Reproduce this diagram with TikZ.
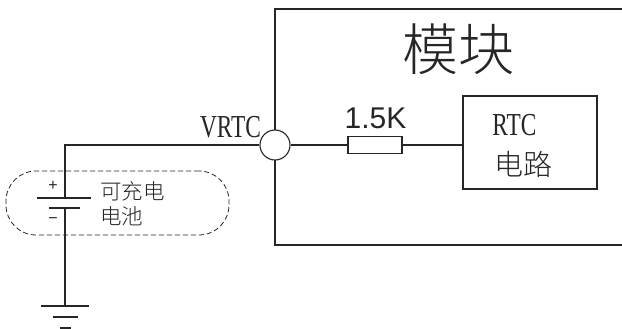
\documentclass[tikz,border=0pt]{standalone}
\usepackage{fontspec}
\setmainfont{Liberation Serif}
\newfontfamily\cjk{Noto Sans CJK SC}
\newfontfamily\cjklight{Noto Sans CJK SC Light}
\newfontfamily\arialf{Liberation Sans}
\tikzset{
  wire/.style={draw=black!85,line width=1.1pt},
  lbl/.style={inner sep=0pt,outer sep=0pt,text=black!85},
}
\begin{document}
\begin{tikzpicture}[x=1pt,y=-1pt]
\useasboundingbox (0,0) rectangle (622,329);
\clip (0,0) rectangle (622,329);
\fill[white] (0,0) rectangle (622,329);
% module box
\draw[wire] (640,9) -- (275,9) -- (275,245) -- (640,245);
% named nodes
\node[draw=black!85,line width=1.1pt,fill=white,circle,minimum size=30pt,inner sep=0pt] (pin) at (275,145) {};
\node[draw=black!85,line width=1.1pt,fill=white,minimum width=54pt,minimum height=17pt,inner sep=0pt] (res) at (375,145) {};
\node[draw=black!85,line width=1.1pt,minimum width=134pt,minimum height=93pt,inner sep=0pt] (rtc) at (530,142.5) {};
% wires
\coordinate (corner) at (65,145);
\coordinate (bplus) at (65,198);
\coordinate (bminus) at (65,208);
\coordinate (gnd) at (65,306);
\draw[wire] (pin.east) -- (res.west);
\draw[wire] (res.east) -- (res.east -| rtc.west);
\draw[wire] (pin.west) -- (corner) -- (bplus);
\draw[wire] (bminus) -- (gnd);
% battery plates
\coordinate (p1l) at (37,198); \coordinate (p1r) at (91,198);
\coordinate (p2l) at (49,208); \coordinate (p2r) at (80,208);
\draw[wire] (p1l) -- (p1r);
\draw[wire] (p2l) -- (p2r);
% ground
\coordinate (g1l) at (41,306); \coordinate (g1r) at (89,306);
\coordinate (g2l) at (53,317); \coordinate (g2r) at (78,317);
\coordinate (g3l) at (60,328); \coordinate (g3r) at (71,328);
\draw[wire] (g1l) -- (g1r);
\draw[wire] (g2l) -- (g2r);
\draw[wire] (g3l) -- (g3r);
% dashed outline
\node[draw=black!85,line width=0.8pt,dash pattern=on 5pt off 3pt,rounded corners=30pt,minimum width=223pt,minimum height=64pt,inner sep=0pt] (pack) at (117.5,203) {};
% labels
\node[lbl] (mod) at (458,49) {\cjklight\fontsize{56}{56}\selectfont 模块};
\node[lbl] (vrtc) at (230.5,127) {\fontsize{32}{32}\selectfont\scalebox{0.73}[1]{VRTC}};
\node[lbl] (rv) at (375.5,118) {\arialf\fontsize{30}{30}\selectfont 1.5K};
\node[lbl] (rtct) at (514.5,125) {\fontsize{32}{32}\selectfont\scalebox{0.73}[1]{RTC}};
\node[lbl] (rtcc) at (523.5,164) {\cjklight\fontsize{29}{29}\selectfont 电路};
\node[lbl,anchor=west] (b1) at (100,191) {\cjklight\fontsize{21.5}{21.5}\selectfont 可充电};
\node[lbl,anchor=west] (b2) at (100,216.5) {\cjklight\fontsize{21.5}{21.5}\selectfont 电池};
\node[lbl] (plus) at (53,185.5) {\arialf\fontsize{16}{16}\selectfont +};
\node[lbl] (minus) at (53,221) {\arialf\fontsize{16}{16}\selectfont −};
\end{tikzpicture}
\end{document}
